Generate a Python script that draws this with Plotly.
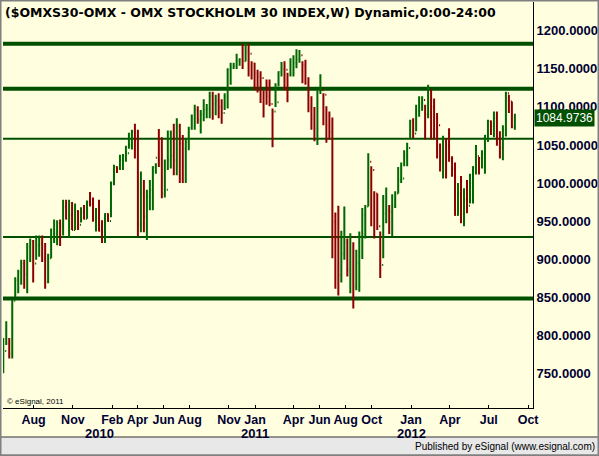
"""Weekly OHLC bar chart of the OMX Stockholm 30 index with horizontal levels."""

import pandas as pd
import plotly.graph_objects as go

# Weekly bars (first week ending late May 2009)
first_week = "2009-05-22"

highs = [
    796, 818, 796, 846, 876, 886, 899, 899, 921, 927,
    925, 931, 931, 931, 921, 907, 940, 952, 951, 952,
    978, 978, 978, 975, 973, 964, 968, 971, 977, 988,
    981, 967, 978, 951, 960, 960, 1002, 1024, 1022, 1037,
    1038, 1049, 1066, 1070, 1078, 1070, 1015, 1004, 991, 1004,
    1022, 1026, 1071, 1060, 1031, 1069, 1069, 1078, 1085, 1078,
    1063, 1059, 1074, 1090, 1103, 1101, 1096, 1110, 1104, 1120,
    1120, 1116, 1118, 1110, 1118, 1151, 1158, 1158, 1170, 1164,
    1183, 1183, 1183, 1160, 1158, 1149, 1147, 1122, 1136, 1136,
    1098, 1131, 1147, 1159, 1160, 1145, 1164, 1168, 1176, 1175,
    1160, 1162, 1139, 1114, 1100, 1122, 1143, 1118, 1101, 1094,
    1086, 961, 970, 937, 969, 927, 934, 922, 912, 936,
    967, 971, 1039, 1022, 989, 986, 936, 984, 994, 971,
    985, 989, 1021, 1027, 1043, 1053, 1083, 1085, 1103, 1114,
    1114, 1103, 1129, 1123, 1111, 1092, 1052, 1062, 1059, 1072,
    1035, 1027, 1000, 1009, 993, 1004, 1012, 1022, 1050, 1034,
    1043, 1063, 1083, 1082, 1094, 1094, 1068, 1076, 1120, 1116,
    1107, 1091,
]

lows = [
    750, 787, 769, 769, 850, 855, 866, 861, 855, 896,
    869, 899, 903, 896, 861, 868, 901, 921, 918, 917,
    931, 952, 929, 938, 938, 938, 948, 952, 953, 969,
    949, 936, 936, 921, 921, 949, 955, 997, 1013, 1017,
    1017, 1028, 1045, 1044, 1032, 930, 935, 935, 925, 964,
    964, 1012, 1021, 980, 981, 1017, 1019, 1010, 1010, 1000,
    1000, 1000, 1043, 1070, 1070, 1078, 1065, 1081, 1085, 1085,
    1083, 1089, 1085, 1078, 1096, 1098, 1129, 1150, 1150, 1154,
    1150, 1160, 1140, 1136, 1122, 1119, 1105, 1086, 1103, 1101,
    1047, 1100, 1127, 1140, 1122, 1106, 1140, 1140, 1151, 1158,
    1131, 1129, 1093, 1070, 1055, 1050, 1117, 1076, 1053, 1057,
    901, 861, 852, 869, 899, 877, 855, 835, 859, 857,
    900, 927, 969, 943, 927, 938, 875, 901, 947, 933,
    930, 967, 986, 1000, 1022, 1022, 1059, 1059, 1068, 1087,
    1095, 1057, 1085, 1057, 1057, 1032, 1015, 1006, 1006, 1028,
    1008, 957, 957, 947, 943, 960, 973, 973, 1011, 1011,
    1019, 1012, 1054, 1063, 1060, 1049, 1032, 1030, 1061, 1092,
    1072, 1070,
]

closes = [
    779, 789, 776, 845, 872, 883, 894, 880, 916, 923,
    894, 918, 920, 901, 870, 901, 929, 934, 947, 943,
    969, 953, 958, 938, 963, 945, 962, 953, 975, 972,
    952, 955, 937, 935, 959, 950, 1000, 1021, 1019, 1030,
    1035, 1039, 1050, 1067, 1056, 946, 986, 956, 982, 991,
    1021, 1033, 1030, 986, 991, 1031, 1036, 1030, 1075, 1052,
    1045, 1054, 1072, 1085, 1096, 1083, 1090, 1096, 1098, 1114,
    1104, 1108, 1100, 1092, 1114, 1149, 1152, 1154, 1161, 1162,
    1160, 1173, 1170, 1157, 1144, 1140, 1138, 1119, 1114, 1104,
    1094, 1106, 1146, 1150, 1149, 1142, 1144, 1158, 1163, 1168,
    1155, 1131, 1098, 1085, 1072, 1120, 1122, 1116, 1076, 1067,
    949, 928, 879, 907, 922, 886, 929, 864, 895, 929,
    958, 969, 1028, 1017, 986, 943, 892, 960, 964, 962,
    970, 986, 1004, 1006, 1036, 1046, 1081, 1065, 1095, 1105,
    1109, 1090, 1122, 1100, 1086, 1076, 1028, 1057, 1049, 1032,
    1019, 958, 986, 959, 978, 970, 1000, 1021, 1035, 1032,
    1038, 1062, 1081, 1075, 1085, 1060, 1046, 1070, 1118, 1107,
    1074, 1084.9736,
]

# Horizontal support / resistance lines
thick_levels = [1183, 1124, 848]
thin_levels = [1058, 929]

y_ticks = [750, 800, 850, 900, 950, 1000, 1050, 1100, 1150, 1200]

month_ticks = [
    "2009-08-01", "2009-11-01", "2010-02-01", "2010-04-01", "2010-06-01",
    "2010-08-01", "2010-11-01", "2011-01-01", "2011-04-01", "2011-06-01",
    "2011-08-01", "2011-10-01", "2012-01-01", "2012-04-01", "2012-07-01",
    "2012-10-01",
]
month_labels = [
    "Aug", "Nov", "Feb", "Apr", "Jun", "Aug", "Nov", "Jan", "Apr", "Jun",
    "Aug", "Oct", "Jan", "Apr", "Jul", "Oct",
]
year_ticks = ["2010-01-01", "2011-01-01", "2012-01-01"]
year_labels = ["2010", "2011", "2012"]

title_text = "($OMXS30-OMX - OMX STOCKHOLM 30 INDEX,W) Dynamic,0:00-24:00"

BG = "#FFFFE0"
GREEN = "#006600"
RED = "#8C0000"
LEVEL = "#005000"
FONT = "Liberation Sans, Arial, sans-serif"
TITLE_FONT = "DejaVu Sans, Verdana, sans-serif"

dates = pd.date_range(first_week, periods=len(closes), freq="7D")
opens = [lows[0]] + closes[:-1]

fig = go.Figure(
    go.Ohlc(
        x=dates,
        open=opens,
        high=highs,
        low=lows,
        close=closes,
        increasing_line_color=GREEN,
        decreasing_line_color=RED,
        line_width=2,
        tickwidth=0.35,
        showlegend=False,
        hoverinfo="skip",
    )
)

for lvl in thick_levels:
    fig.add_shape(type="line", xref="paper", x0=0, x1=1, y0=lvl, y1=lvl,
                  line=dict(color=LEVEL, width=4), layer="below")
for lvl in thin_levels:
    fig.add_shape(type="line", xref="paper", x0=0, x1=1, y0=lvl, y1=lvl,
                  line=dict(color=LEVEL, width=2), layer="below")

# footer strip and outer frame (paper coords: plot area is 3..533 x 2..408 px)
fig.add_shape(type="rect", xref="paper", yref="paper",
              x0=-0.01, x1=1.13, y0=-0.0714, y1=-0.125,
              fillcolor="#E8E8E8", line=dict(color="#333333", width=1))
fig.add_shape(type="rect", xref="paper", yref="paper",
              x0=-0.0047, x1=1.1236, y0=1.0037, y1=-0.1166,
              line=dict(color="#808080", width=2))

fig.add_annotation(x=0, xref="paper", y=0.975, yref="paper",
                   text=title_text, showarrow=False, xanchor="left",
                   yanchor="middle",
                   font=dict(family=TITLE_FONT, size=12.5, color="black",
                             weight="bold"))

fig.add_annotation(x=0.004, xref="paper", y=0.015, yref="paper",
                   text="\u00a9 eSignal, 2011", showarrow=False,
                   xanchor="left", yanchor="middle",
                   font=dict(family=FONT, size=8, color="black"))

for d, lab in zip(year_ticks, year_labels):
    fig.add_annotation(x=d, y=-0.064, yref="paper", text=lab,
                       showarrow=False, yanchor="middle",
                       font=dict(family=FONT, size=13, color="#000033",
                                 weight="bold"))

fig.add_annotation(x=1, xref="paper", y=closes[-1], yref="y",
                   text=f"{closes[-1]:.4f}", showarrow=False,
                   xanchor="left", yanchor="middle", xshift=1,
                   bgcolor=LEVEL, borderpad=1,
                   font=dict(family=FONT, size=12, color="white"))

fig.add_annotation(x=1.1208, xref="paper", y=-0.096, yref="paper",
                   text="Published by eSignal (www.esignal.com)",
                   showarrow=False, xanchor="right", yanchor="middle",
                   font=dict(family=FONT, size=10, color="black"))

fig.update_layout(
    width=599,
    height=456,
    margin=dict(l=3, r=66, t=2, b=48),
    paper_bgcolor=BG,
    plot_bgcolor=BG,
    showlegend=False,
    xaxis=dict(
        type="date",
        range=["2009-05-21 09:00", "2012-10-12 10:00"],
        rangeslider=dict(visible=False),
        showgrid=False,
        zeroline=False,
        showline=True,
        linecolor="black",
        linewidth=1,
        ticks="inside",
        ticklen=3,
        tickcolor="black",
        tickangle=0,
        tickvals=month_ticks,
        ticktext=month_labels,
        tickfont=dict(family=FONT, size=12.5, color="#000033", weight="bold"),
    ),
    yaxis=dict(
        side="right",
        range=[704, 1238],
        showgrid=False,
        zeroline=False,
        showline=True,
        linecolor="black",
        linewidth=1,
        ticks="",
        tickvals=y_ticks,
        tickformat=".4f",
        tickfont=dict(family=FONT, size=13, color="#000033", weight="bold"),
    ),
)

# drop the browser's default body margin so the chart fills the window
fig.write_html(
    "out.html",
    config={"displayModeBar": False},
    post_script="document.body.style.margin = '0';",
)
